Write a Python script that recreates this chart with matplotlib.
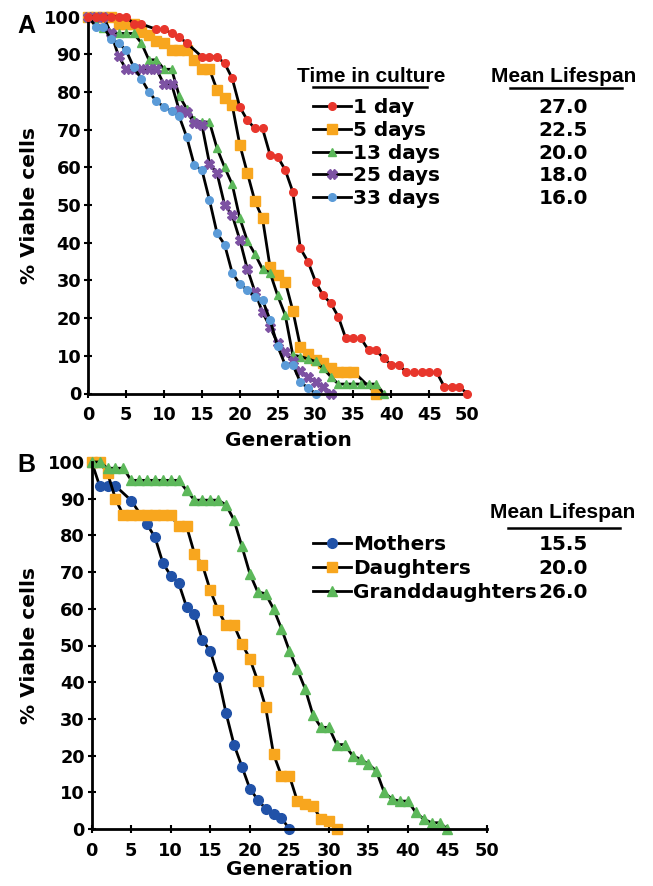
import matplotlib
matplotlib.use("Agg")
import matplotlib.pyplot as plt
from matplotlib.lines import Line2D

plt.rcParams['font.family'] = 'DejaVu Sans'
plt.rcParams['font.weight'] = 'bold'

# Panel A - time in culture
gen_1d = [0, 1, 2, 3, 4, 5, 6, 7, 9, 10, 11, 12, 13, 15, 16, 17, 18, 19, 20, 21, 22, 23, 24, 25, 26, 27, 28,
          29, 30, 31, 32, 33, 34, 35, 36, 37, 38, 39, 40, 41, 42, 43, 44, 45, 46, 47, 48, 49, 50]
via_1d = [100, 100, 100, 100, 100, 100, 98, 98, 96.6, 96.6, 95.5, 94.5, 93, 89.3, 89.3, 89.3, 87.6, 83.6, 76,
          72.5, 70.3, 70.3, 63.3, 62.8, 59.3, 53.5, 38.5, 35, 29.7, 26, 24, 20.4, 14.6, 14.6, 14.6, 11.5, 11.5,
          9.3, 7.6, 7.6, 5.6, 5.6, 5.6, 5.6, 5.6, 1.8, 1.8, 1.8, 0]
gen_5d = list(range(0, 36)) + [38]
via_5d = [100, 100, 100, 100, 98, 98, 98, 96, 95, 93.5, 93, 91, 91, 91, 88.5, 86, 86, 80.5, 78.5, 76.5, 66,
          58.5, 51, 46.5, 33.5, 31.5, 29.7, 22, 12.4, 10.5, 9, 8, 6.7, 5.8, 5.8, 5.8, 0]
gen_13d = list(range(0, 40))
via_13d = [100, 98, 97, 95.5, 95.5, 95.5, 95.5, 93, 88.5, 88.5, 86, 86, 79, 75.5, 72.5, 72, 72, 65, 60, 55.5,
           46.5, 40.5, 37, 33, 32, 26, 20.8, 10.2, 9.8, 9.2, 8.5, 6.7, 4.5, 2.5, 2.5, 2.5, 2.5, 2.5, 2.5, 0]
gen_25d = list(range(0, 33))
via_25d = [100, 100, 100, 95.5, 89.5, 86, 86, 86, 86, 86, 82, 82, 75.2, 74.7, 71.7, 71.2, 61, 58.4, 50, 47.3,
           40.8, 33, 27, 21.5, 17.7, 13.3, 11, 8.5, 6, 4.5, 3, 1.8, 0]
gen_33d = list(range(0, 31))
via_33d = [100, 97.3, 97.3, 94, 93, 91, 86.5, 83.5, 80, 77.5, 76, 75, 73.5, 68, 60.5, 59.3, 51.3, 42.5, 39.5,
           32, 29, 27.5, 25.7, 24.8, 19.5, 12.5, 7.6, 7.6, 3, 1.5, 0]
labels_a = ["1 day", "5 days", "13 days", "25 days", "33 days"]
life_a = [27.0, 22.5, 20.0, 18.0, 16.0]

# Panel B - mothers / daughters / granddaughters
gen_m = [0, 1, 2, 3, 5, 7, 8, 9, 10, 11, 12, 13, 14, 15, 16, 17, 18, 19, 20, 21, 22, 23, 24, 25]
via_m = [100, 93.5, 93.5, 93.5, 89.5, 83, 79.5, 72.5, 69, 67, 60.5, 58.5, 51.5, 48.5, 41.5, 31.5, 23, 17, 11,
         8, 5.5, 4, 3, 0]
gen_d = list(range(0, 32))
via_d = [100, 100, 97, 90, 85.5, 85.5, 85.5, 85.5, 85.5, 85.5, 85.5, 82.5, 82.5, 75, 72, 65, 59.6, 55.5, 55.5,
         50.5, 46.4, 40.4, 33.2, 20.4, 14.5, 14.5, 7.7, 6.7, 6.3, 2.6, 2.2, 0]
gen_g = list(range(0, 46))
via_g = [100, 100, 98.3, 98.3, 98.3, 95, 95, 95, 95, 95, 95, 95, 92.3, 89.6, 89.6, 89.6, 89.6, 88.3, 84.2, 77,
         69.6, 64.6, 64.1, 60, 54.6, 48.6, 43.5, 38.2, 31, 27.7, 27.7, 23, 23, 20, 19, 17.7, 15.8, 10, 8.1, 7.6,
         7.6, 4.5, 2.7, 1.7, 1.7, 0]
labels_b = ["Mothers", "Daughters", "Granddaughters"]
life_b = [15.5, 20.0, 26.0]

W, H = 653, 886
fig = plt.figure(figsize=(W / 100, H / 100), dpi=100)
axA = fig.add_axes([88.3 / W, 1 - 393.5 / H, (467 - 88.3) / W, 377 / H])
axB = fig.add_axes([91.7 / W, 1 - 829 / H, (487 - 91.7) / W, 367 / H])


def style(ax):
    ax.set_xlim(0, 50)
    ax.set_ylim(0, 100)
    ax.set_xticks(range(0, 51, 5))
    ax.set_yticks(range(0, 101, 10))
    for s in ['top', 'right']:
        ax.spines[s].set_visible(False)
    for s in ['left', 'bottom']:
        ax.spines[s].set_linewidth(2)
    ax.tick_params(direction='inout', length=6, width=1.5, labelsize=12.8)
    ax.tick_params(axis='x', pad=6)
    ax.tick_params(axis='y', pad=2)
    ax.set_ylabel("% Viable cells", fontsize=14.5, fontweight='bold')
    ax.set_xlabel("Generation", fontsize=14.5, fontweight='bold')


def series(ax, x, y, marker, color, ms, label):
    ln, = ax.plot(x, y, color='black', lw=2.0, marker=marker, ms=ms, mfc=color, mec=color,
                  clip_on=False, label=label)
    return ln


style(axA)
style(axB)

hA = []
hA.append(series(axA, gen_1d, via_1d, 'o', '#e8362c', 5.5, labels_a[0]))
hA.append(series(axA, gen_5d, via_5d, 's', '#f8a61e', 6.5, labels_a[1]))
hA.append(series(axA, gen_13d, via_13d, '^', '#5cb85a', 6, labels_a[2]))
hA.append(series(axA, gen_25d, via_25d, 'X', '#7d52a3', 7, labels_a[3]))
hA.append(series(axA, gen_33d, via_33d, 'o', '#5b9bd8', 5.5, labels_a[4]))
# red on top at the start like the original
hA[0].set_zorder(3)

hB = []
hB.append(series(axB, gen_m, via_m, 'o', '#2152a8', 7, labels_b[0]))
hB.append(series(axB, gen_d, via_d, 's', '#f8a61e', 7.5, labels_b[1]))
hB.append(series(axB, gen_g, via_g, '^', '#5cb85a', 7, labels_b[2]))

axA.yaxis.set_label_coords((39 - 88.3) / 378.7, 0.5)
axA.xaxis.set_label_coords((288.7 - 88.3) / 378.7, (393.5 - 431) / 377)
axB.yaxis.set_label_coords((39 - 91.7) / 395.3, 0.5)
axB.xaxis.set_label_coords((289 - 91.7) / 395.3, (829 - 860) / 367)

legA = fig.legend(handles=hA, loc='upper left', bbox_to_anchor=(313 / W, 1 - 98 / H), frameon=False,
                  fontsize=14.4, handlelength=1.9, handletextpad=0.1, labelspacing=0.19,
                  borderpad=0, borderaxespad=0)
legB = fig.legend(handles=hB, loc='upper left', bbox_to_anchor=(313 / W, 1 - 535 / H), frameon=False,
                  fontsize=14.4, handlelength=1.9, handletextpad=0.1, labelspacing=0.25,
                  borderpad=0, borderaxespad=0)

head = dict(fontsize=15, fontweight='bold', family='Liberation Sans', ha='center', va='center')
fig.text(371 / W, 1 - 76 / H, "Time in culture", **head)
fig.text(564 / W, 1 - 76 / H, "Mean Lifespan", **head)
fig.text(563 / W, 1 - 513 / H, "Mean Lifespan", **head)
for x0, x1, yy in [(313, 427, 87), (510, 622, 88), (508, 620, 528)]:
    fig.add_artist(Line2D([x0 / W, x1 / W], [1 - yy / H, 1 - yy / H], color='black', lw=1.8,
                          transform=fig.transFigure))

fig.text(17 / W, 1 - 33 / H, "A", fontsize=18, fontweight='bold', family='Liberation Sans')
fig.text(17 / W, 1 - 472 / H, "B", fontsize=18, fontweight='bold', family='Liberation Sans')

# values column aligned with legend rows
fig.canvas.draw()
r = fig.canvas.get_renderer()
for leg, vals in [(legA, life_a), (legB, life_b)]:
    for t, v in zip(leg.get_texts(), vals):
        bb = t.get_window_extent(r)
        yc = (bb.y0 + bb.y1) / 2
        fig.text(563 / W, yc / fig.bbox.height, f"{v:.1f}", fontsize=14.4, fontweight='bold',
                 ha='center', va='center')

fig.savefig("out.png", dpi=100)
